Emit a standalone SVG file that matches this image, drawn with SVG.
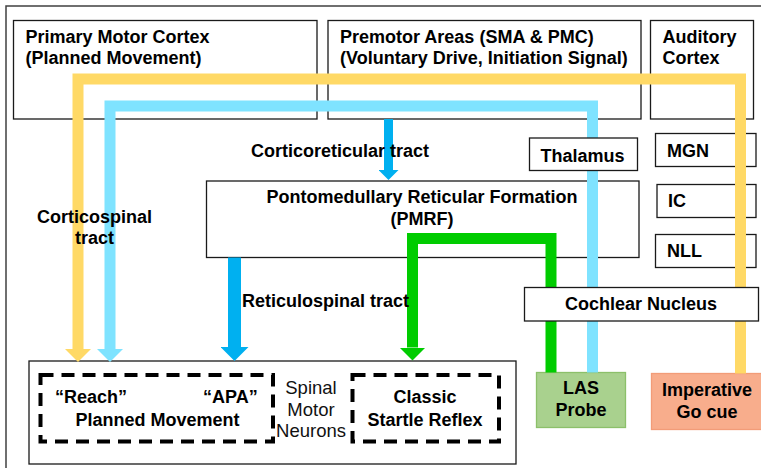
<svg xmlns="http://www.w3.org/2000/svg" width="761" height="468" viewBox="0 0 761 468">
  <style>
    .box { fill: #ffffff; stroke: #1a1a1a; stroke-width: 1.3; }
    .dash { fill: none; stroke: #000000; stroke-width: 4; stroke-dasharray: 13 8; }
    .t { font-family: "Liberation Sans", Arial, sans-serif; font-size: 18px; font-weight: bold; fill: #000000; }
    .r { font-family: "Liberation Sans", Arial, sans-serif; font-size: 18.5px; fill: #111111; }
    .mid { text-anchor: middle; }
    .line { fill: none; stroke-linejoin: miter; stroke-linecap: butt; }
  </style>
  <defs>
    <marker id="headYellow" markerUnits="userSpaceOnUse" viewBox="0 0 13 26" markerWidth="13" markerHeight="26" refX="0" refY="13" orient="auto">
      <path d="M0,0 L13,13 L0,26 Z" fill="#FFD966"/>
    </marker>
    <marker id="headCyan" markerUnits="userSpaceOnUse" viewBox="0 0 13 26" markerWidth="13" markerHeight="26" refX="0" refY="13" orient="auto">
      <path d="M0,0 L13,13 L0,26 Z" fill="#7FE3FF"/>
    </marker>
    <marker id="headGreen" markerUnits="userSpaceOnUse" viewBox="0 0 13 26" markerWidth="13" markerHeight="26" refX="0" refY="13" orient="auto">
      <path d="M0,0 L13,13 L0,26 Z" fill="#00CC00"/>
    </marker>
    <marker id="headBlue" markerUnits="userSpaceOnUse" viewBox="0 0 14 28" markerWidth="14" markerHeight="28" refX="0" refY="14" orient="auto">
      <path d="M0,0 L14,14 L0,28 Z" fill="#00B0F0"/>
    </marker>
    <marker id="headBlueSmall" markerUnits="userSpaceOnUse" viewBox="0 0 10 20" markerWidth="10" markerHeight="20" refX="0" refY="10" orient="auto">
      <path d="M0,0 L10,10 L0,20 Z" fill="#00B0F0"/>
    </marker>
  </defs>

  <!-- outer frame -->
  <rect x="6" y="6" width="800" height="500" fill="#ffffff" stroke="#404040" stroke-width="1.5"/>

  <g id="primary-motor-cortex">
    <rect class="box" x="13.5" y="20.5" width="303.5" height="98.5"/>
    <text class="t" x="25.5" y="43">Primary Motor Cortex</text>
    <text class="t" x="25.5" y="64">(Planned Movement)</text>
  </g>

  <g id="premotor-areas">
    <rect class="box" x="328" y="20.5" width="313" height="98.5"/>
    <text class="t" x="340" y="43">Premotor Areas (SMA &amp; PMC)</text>
    <text class="t" x="340" y="64">(Voluntary Drive, Initiation Signal)</text>
  </g>

  <g id="auditory-cortex">
    <rect class="box" x="650.5" y="20.5" width="103" height="98.5"/>
    <text class="t" x="662.5" y="43">Auditory</text>
    <text class="t" x="662.5" y="64">Cortex</text>
  </g>

  <g id="mgn">
    <rect class="box" x="655.5" y="133.5" width="100.5" height="33"/>
    <text class="t" x="667" y="157">MGN</text>
  </g>

  <g id="ic">
    <rect class="box" x="657" y="184.5" width="99" height="33"/>
    <text class="t" x="668" y="207">IC</text>
  </g>

  <g id="nll">
    <rect class="box" x="655.5" y="234.5" width="100.5" height="33"/>
    <text class="t" x="667" y="256.5">NLL</text>
  </g>

  <g id="pmrf">
    <rect class="box" x="206.5" y="181" width="432.5" height="76.5"/>
    <text class="t mid" x="422" y="203">Pontomedullary Reticular Formation</text>
    <text class="t mid" x="422" y="225">(PMRF)</text>
  </g>

  <g id="spinal-motor-neurons">
    <rect class="box" x="29" y="361" width="487" height="103"/>
    <rect class="dash" x="40.5" y="375" width="232.5" height="66.5"/>
    <rect class="dash" x="352.5" y="375" width="146.5" height="66.5"/>
    <text class="t" x="55" y="403">“Reach”</text>
    <text class="t" x="203" y="403">“APA”</text>
    <text class="t mid" x="157.5" y="426">Planned Movement</text>
    <text class="r mid" x="311" y="394">Spinal</text>
    <text class="r mid" x="311" y="416">Motor</text>
    <text class="r mid" x="311" y="437">Neurons</text>
    <text class="t mid" x="425" y="403">Classic</text>
    <text class="t mid" x="425" y="426">Startle Reflex</text>
  </g>

  <g id="las-probe">
    <rect x="536.5" y="372.5" width="89" height="55" fill="#A9D18E" stroke="#8CC06A" stroke-width="1.3"/>
    <text class="t mid" x="581" y="394">LAS</text>
    <text class="t mid" x="581" y="416">Probe</text>
  </g>

  <g id="imperative-go-cue">
    <rect x="651.5" y="373.5" width="115" height="56" fill="#F8AD8C" stroke="#F29C78" stroke-width="1.3"/>
    <text class="t mid" x="707" y="396">Imperative</text>
    <text class="t mid" x="707" y="418">Go cue</text>
  </g>

  <g id="connectors">
    <!-- go cue to primary motor cortex pathway (corticospinal) -->
    <path class="line" d="M740.5,373.5 V79 H78 V349" stroke="#FFD966" stroke-width="11" marker-end="url(#headYellow)"/>
    <!-- LAS probe through thalamus to corticospinal -->
    <path class="line" d="M592.5,372.5 V106 H110 V349" stroke="#7FE3FF" stroke-width="11" marker-end="url(#headCyan)"/>
    <!-- LAS probe through cochlear nucleus / PMRF to startle reflex -->
    <path class="line" d="M551,372.5 V238.5 H412.5 V347.5" stroke="#00CC00" stroke-width="11" marker-end="url(#headGreen)"/>
    <!-- corticoreticular tract -->
    <path class="line" d="M388.5,119 V170" stroke="#00B0F0" stroke-width="9" marker-end="url(#headBlueSmall)"/>
    <!-- reticulospinal tract -->
    <path class="line" d="M234.5,257.5 V347" stroke="#00B0F0" stroke-width="13" marker-end="url(#headBlue)"/>
  </g>

  <g id="thalamus">
    <rect class="box" x="529.5" y="138" width="108" height="32.5"/>
    <text class="t mid" x="582.5" y="162">Thalamus</text>
  </g>

  <g id="cochlear-nucleus">
    <rect class="box" x="524.5" y="287.5" width="234" height="33.5"/>
    <text class="t mid" x="641" y="310">Cochlear Nucleus</text>
  </g>

  <g id="tract-labels">
    <text class="t" x="251" y="157">Corticoreticular tract</text>
    <text class="t mid" x="94.5" y="223">Corticospinal</text>
    <text class="t mid" x="94.5" y="244">tract</text>
    <text class="t" x="242" y="306.5">Reticulospinal tract</text>
  </g>
</svg>
